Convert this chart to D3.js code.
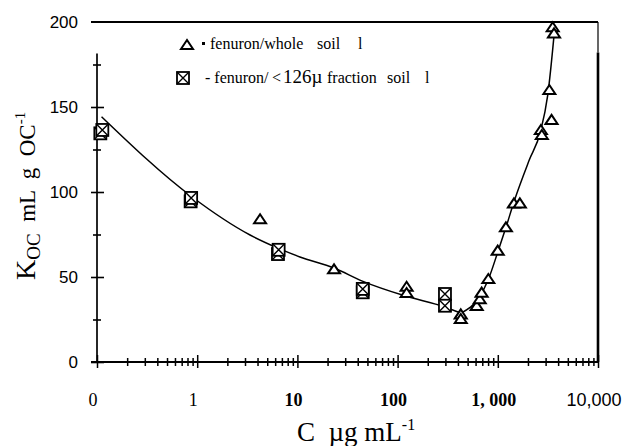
<!DOCTYPE html>
<html>
<head>
<meta charset="utf-8">
<script src="https://cdn.jsdelivr.net/npm/d3@7"></script>
<style>
  body { margin: 0; background: #fff; }
</style>
</head>
<body>
<div id="container"></div>
<script>

/* DATA */

// fenuron / whole soil 1 (triangles) : [C ug/mL, Koc]
var wholeSoil = [
  [4.24, 84], [23.2, 54.5], [123, 44.3], [123, 40.6], [427, 28], [427, 25.3],
  [616, 33], [660, 36.9], [690, 40.8], [804, 48.8], [998, 65.5], [1205, 79.2],
  [1450, 93.3], [1660, 93.3], [2690, 136.5], [2750, 133.5], [3270, 160],
  [3440, 142.4], [3530, 196.9], [3640, 193.3]
];

// fenuron / <126u fraction soil 1 (crossed squares)
var fractionSoil = [
  [0.108, 134.5], [0.113, 136.5], [0.86, 94.5], [0.87, 96.5], [6.4, 63.5],
  [6.5, 66], [44.9, 41], [44.9, 43], [297, 40], [297, 33.1]
];

// fitted curve (two branches meeting at the minimum)
var fitLow = [
  [0.111, 144.3], [0.87, 97.5], [3.37, 74.7], [6.4, 67], [10.6, 61.8],
  [23.2, 55.3], [44.5, 47.6], [120, 38.8], [295, 32.4], [430, 28.8]
];
var fitHigh = [
  [430, 28.8], [664, 38.8], [800, 48.2], [1000, 64.7], [1200, 78.8],
  [1470, 95.3], [2060, 118.8], [2660, 135.3], [3150, 157], [3700, 196.5]
];

var yTickValues = [0, 50, 100, 150, 200];
var yMinorValues = [25, 75, 125, 175];
var xTickValues = [0.1, 1, 10, 100, 1000, 10000];
var xTickLabels = ["0", "1", "10", "100", "1, 000", "10,000"];

/* CONSTANTS */

var width = 624, height = 446;
var serif = "'Liberation Serif', 'Times New Roman', serif";
var sans = "'Liberation Sans', Arial, sans-serif";

var svg = d3.select("#container")
  .append("svg")
  .attr("width", width)
  .attr("height", height);

// SCALES
var x = d3.scaleLog().domain([0.1, 10000]).range([97, 598]);
var y = d3.scaleLinear().domain([0, 200]).range([362, 22]);

// frame: top line and right line
svg.append("line")
  .attr("x1", 91).attr("x2", x(10000))
  .attr("y1", y(200)).attr("y2", y(200))
  .attr("stroke", "#000").attr("stroke-width", 2);
svg.append("line")
  .attr("x1", x(10000)).attr("x2", x(10000))
  .attr("y1", y(200)).attr("y2", y(182))
  .attr("stroke", "#000").attr("stroke-width", 1.2);
svg.append("line")
  .attr("x1", x(10000)).attr("x2", x(10000))
  .attr("y1", y(182)).attr("y2", y(0))
  .attr("stroke", "#000").attr("stroke-width", 2.6);

// Y AXIS
var yAxis = svg.append("g")
  .attr("transform", "translate(" + x(0.1) + ",0)")
  .call(d3.axisLeft(y).tickValues(yTickValues.slice(0, 4).concat(yMinorValues)).tickFormat(""));
yAxis.select(".domain").remove();
yAxis.selectAll(".tick line")
  .attr("x1", d => yMinorValues.indexOf(d) >= 0 ? -4 : -6)
  .attr("x2", d => yMinorValues.indexOf(d) >= 0 ? 4 : 7)
  .attr("stroke-width", 1.6);
svg.append("line")
  .attr("x1", x(0.1)).attr("x2", x(0.1))
  .attr("y1", y(181.5)).attr("y2", y(0))
  .attr("stroke", "#000").attr("stroke-width", 1.7);

svg.append("g").selectAll("text")
  .data(yTickValues)
  .enter()
  .append("text")
  .attr("x", 78)
  .attr("y", d => y(d))
  .attr("dy", "0.36em")
  .attr("text-anchor", "end")
  .style("font-family", sans)
  .style("font-size", "17px")
  .text(d => d);

// X AXIS
var xAxis = svg.append("g")
  .attr("transform", "translate(0," + y(0) + ")")
  .call(d3.axisBottom(x).tickValues(x.ticks()).tickFormat(""));
xAxis.select(".domain").remove();
xAxis.selectAll(".tick line")
  .attr("y1", d => Number.isInteger(Math.log10(d)) ? -7 : -4)
  .attr("y2", d => Number.isInteger(Math.log10(d)) ? 6 : 4)
  .attr("stroke-width", 1.5);
svg.append("line")
  .attr("x1", 91).attr("x2", x(10000))
  .attr("y1", y(0)).attr("y2", y(0))
  .attr("stroke", "#000").attr("stroke-width", 2);

// tick labels in the original mix of faces
svg.append("g").selectAll("text")
  .data(xTickValues)
  .enter()
  .append("text")
  .attr("x", d => x(d) - 4)
  .attr("y", 406)
  .attr("text-anchor", "middle")
  .style("font-family", (d, i) => i == 5 ? sans : serif)
  .style("font-weight", (d, i) => (i >= 2 && i <= 4) ? "bold" : "normal")
  .style("font-size", "18px")
  .text((d, i) => xTickLabels[i]);

// axis titles
var xTitle = svg.append("text")
  .attr("x", 297)
  .attr("y", 441)
  .style("font-family", serif)
  .style("font-size", "27px")
  .attr("xml:space", "preserve");
xTitle.append("tspan").text("C  \u00b5g mL");
xTitle.append("tspan").attr("dy", -11).style("font-size", "16px").text("-1");

var yTitle = svg.append("text")
  .attr("transform", "translate(35,280) rotate(-90)")
  .style("font-family", serif)
  .attr("xml:space", "preserve");
yTitle.append("tspan").style("font-size", "28px").text("K");
yTitle.append("tspan").attr("dy", 5).style("font-size", "19px").text("OC");
yTitle.append("tspan").attr("dy", -5).style("font-size", "23px").text("  mL  g  OC");
yTitle.append("tspan").attr("dy", -10).style("font-size", "15px").text("-1");

// FITTED CURVE
var line = d3.line()
  .x(d => x(d[0]))
  .y(d => y(d[1]))
  .curve(d3.curveMonotoneX);

[fitLow, fitHigh].forEach(function (branch) {
  svg.append("path")
    .datum(branch)
    .attr("d", line)
    .attr("fill", "none")
    .attr("stroke", "#000")
    .attr("stroke-width", 1.5);
});

// MARKERS
var triangle = "M-6,4L0,-5L6,4Z";

function drawSquare(g) {
  g.append("rect")
    .attr("x", -6).attr("y", -6).attr("width", 12).attr("height", 12)
    .attr("fill", "#fff").attr("stroke", "#000").attr("stroke-width", 1.8);
  g.append("path")
    .attr("d", "M-6,-6L6,6M6,-6L-6,6")
    .attr("stroke", "#000").attr("stroke-width", 1.4);
}

svg.append("g").selectAll("g")
  .data(fractionSoil)
  .enter()
  .append("g")
  .attr("transform", d => "translate(" + x(d[0]) + "," + y(d[1]) + ")")
  .each(function () { drawSquare(d3.select(this)); });

svg.append("g").selectAll("path")
  .data(wholeSoil)
  .enter()
  .append("path")
  .attr("transform", d => "translate(" + x(d[0]) + "," + y(d[1]) + ")")
  .attr("d", triangle)
  .attr("fill", "#fff")
  .attr("stroke", "#000")
  .attr("stroke-width", 2);

// LEGEND
svg.append("path")
  .attr("transform", "translate(187,45)")
  .attr("d", triangle)
  .attr("fill", "#fff").attr("stroke", "#000").attr("stroke-width", 2);
svg.append("rect")
  .attr("x", 202).attr("y", 42).attr("width", 3).attr("height", 3)
  .attr("fill", "#000");
var leg1 = svg.append("text")
  .attr("y", 49)
  .style("font-family", serif)
  .style("font-size", "16px");
leg1.append("tspan").attr("x", 210).text("fenuron/whole");
leg1.append("tspan").attr("x", 317).text("soil");
leg1.append("tspan").attr("x", 358).text("l");

drawSquare(svg.append("g").attr("transform", "translate(183,78)"));
var leg2 = svg.append("text")
  .attr("y", 83)
  .style("font-family", serif)
  .style("font-size", "16px");
leg2.append("tspan").attr("x", 205).text("- fenuron/");
leg2.append("tspan").attr("x", 272).text("<");
leg2.append("tspan").attr("x", 283).style("font-size", "19px").text("126\u00b5");
leg2.append("tspan").attr("x", 327).text("fraction");
leg2.append("tspan").attr("x", 387).text("soil");
leg2.append("tspan").attr("x", 425).text("l");

</script>
</body>
</html>
